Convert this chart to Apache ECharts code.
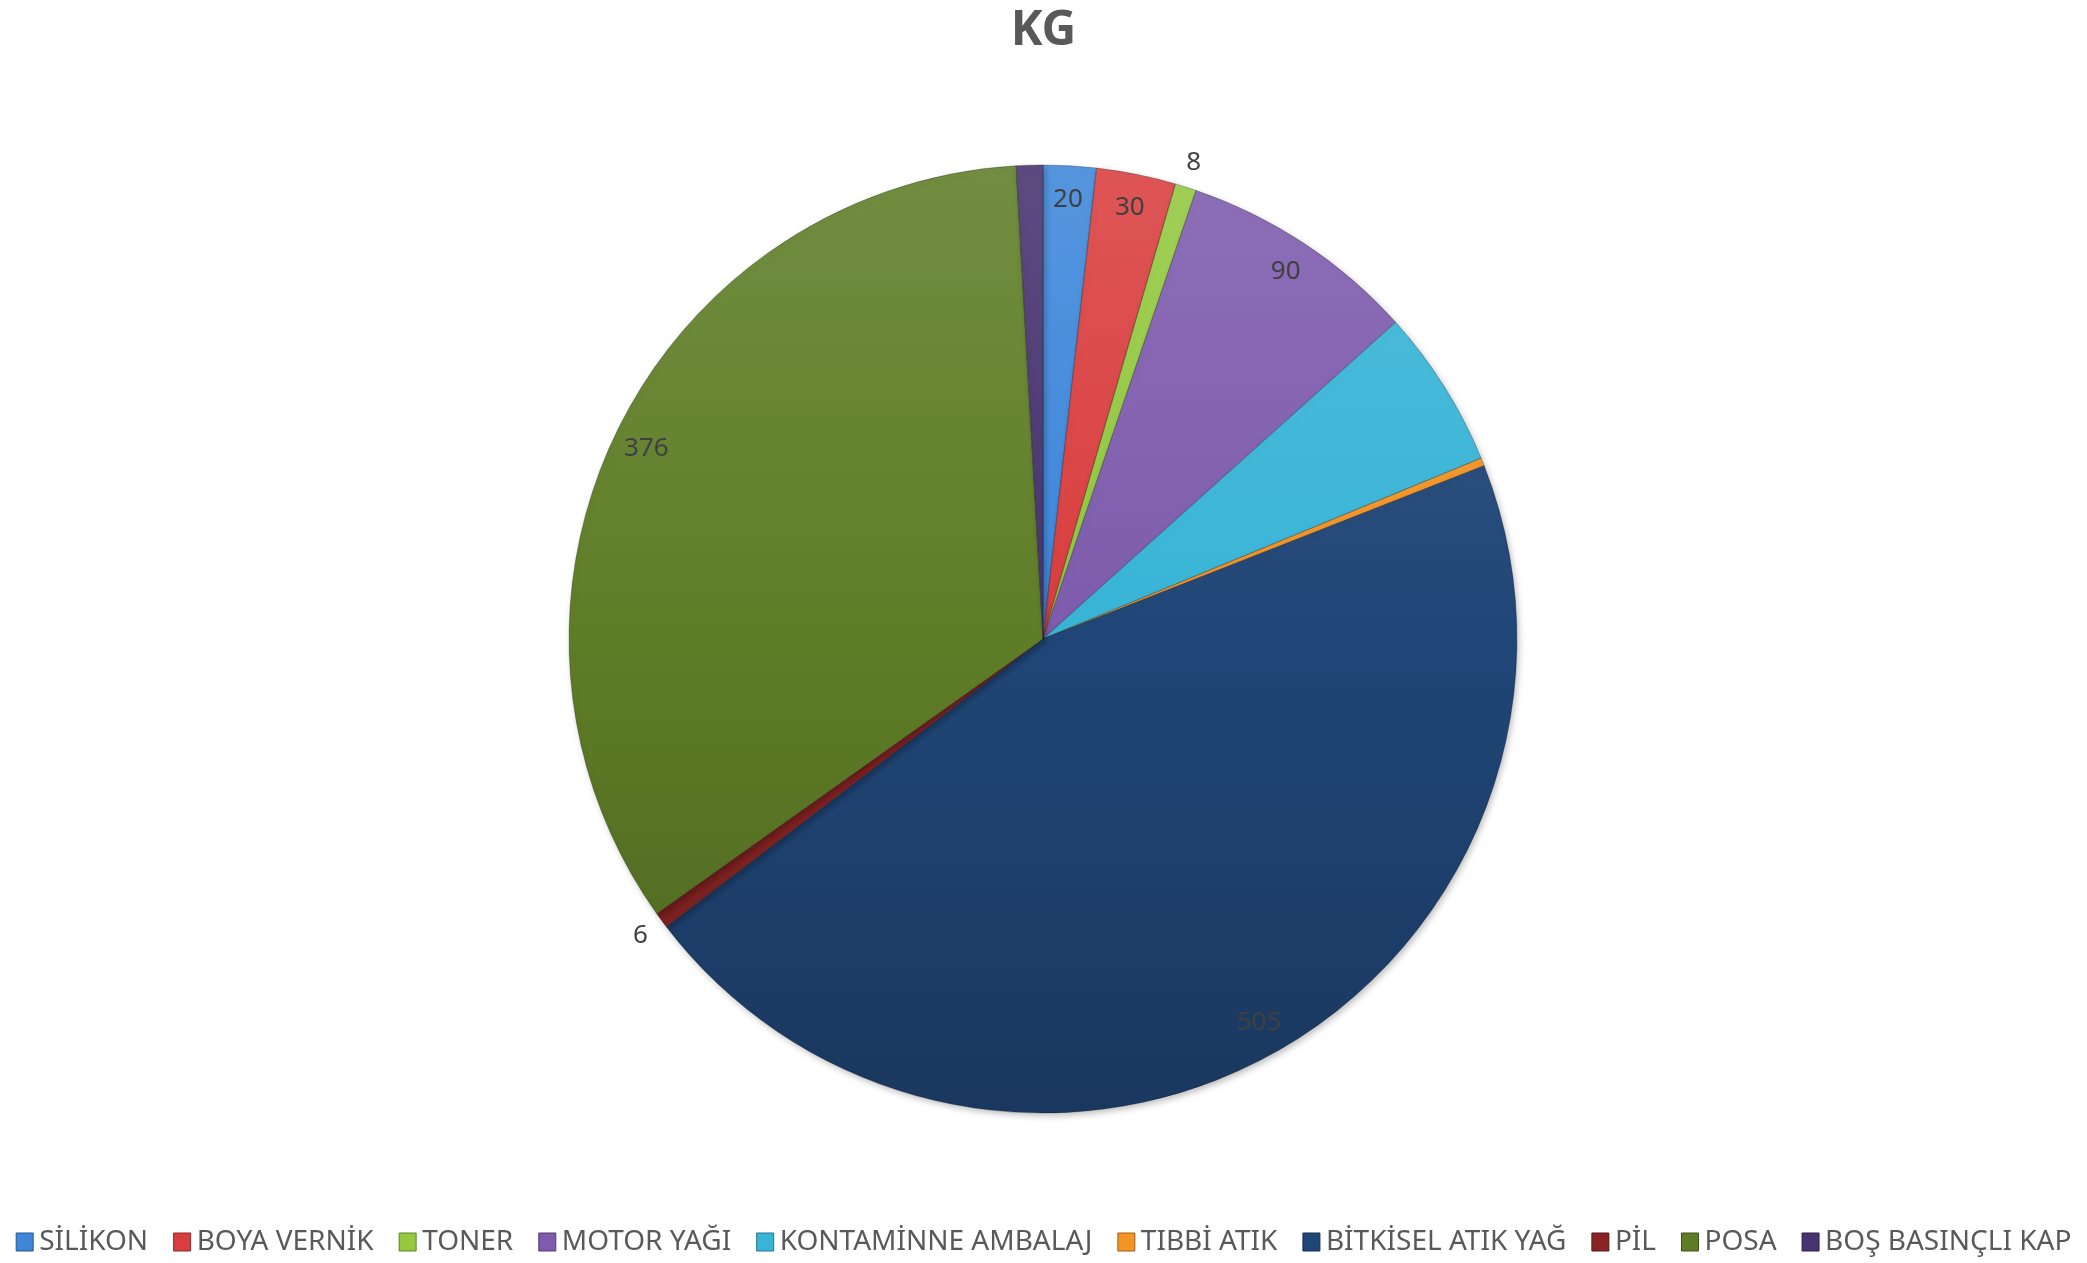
<!DOCTYPE html>
<html><head><meta charset="utf-8">
<script src="https://cdn.jsdelivr.net/npm/echarts@6/dist/echarts.min.js"></script>
<style>html,body{margin:0;padding:0;background:#fff}#c{width:2087px;height:1263px}</style>
</head><body><div id="c"></div>
<script>
const categories = ['SİLİKON','BOYA VERNİK','TONER','MOTOR YAĞI','KONTAMİNNE AMBALAJ','TIBBİ ATIK','BİTKİSEL ATIK YAĞ','PİL','POSA','BOŞ BASINÇLI KAP'];
const values = [20, 30, 8, 90, 60, 3, 505, 6, 376, 10];
const labelPlacement = ['in','in','out','in','none','none','in','out','in','none'];
const colors = ['#3d86d9','#d93e3e','#93c83f','#7e5bad','#38b4d6','#f39425','#204677','#8a2424','#5f7d27','#47336f'];

function shade(hex, f){
  const n=parseInt(hex.slice(1),16);let r=n>>16,g=(n>>8)&255,b=n&255;
  const t=f<0?0:255,p=Math.abs(f);
  r=Math.round((t-r)*p+r);g=Math.round((t-g)*p+g);b=Math.round((t-b)*p+b);
  return 'rgb('+r+','+g+','+b+')';
}
const cx=1043, cy=639, R=474;
function grad(c){
  return new echarts.graphic.LinearGradient(0, cy-R, 0, cy+R, [
    {offset:0,color:shade(c,0.12)},{offset:0.5,color:c},{offset:1,color:shade(c,-0.2)}], true);
}
const mainData = categories.map((n,i)=>({name:n,value:values[i],itemStyle:{color:grad(colors[i])}}));
const labelStyle = {color:'#404040',fontSize:26,fontFamily:'Noto Sans',formatter:'{c}'};
function ringData(mode){
  return categories.map((n,i)=>({name:n,value:values[i],
    label:{show:labelPlacement[i]===mode}}));
}
const chart = echarts.init(document.getElementById('c'));
chart.setOption({
  animation:false,
  color:colors,
  title:{text:'KG',left:'center',top:2,textStyle:{fontSize:48,fontWeight:'bold',color:'#595959',fontFamily:'Noto Sans'}},
  legend:{bottom:2,left:'center',itemWidth:17,itemHeight:18,itemGap:25,icon:'rect',
    textStyle:{fontSize:28,color:'#595959',fontFamily:'Noto Sans',padding:[0,0,0,1]},
    data:categories.map((n,i)=>({name:n,itemStyle:{color:colors[i],borderColor:shade(colors[i],-0.35),borderWidth:1}}))},
  series:[
    {type:'pie',center:[cx,cy],radius:[0,R],startAngle:90,clockwise:true,
     label:{show:false},labelLine:{show:false},
     itemStyle:{borderColor:'rgba(0,0,0,0.25)',borderWidth:1,shadowBlur:6,shadowColor:'rgba(0,0,0,0.25)',shadowOffsetX:2,shadowOffsetY:3},
     emphasis:{disabled:true},data:mainData},
    {type:'pie',center:[cx,cy],radius:[400,R],startAngle:90,clockwise:true,silent:true,avoidLabelOverlap:false,
     itemStyle:{color:'transparent',borderWidth:0},
     label:Object.assign({position:'inside'},labelStyle),labelLine:{show:false},
     emphasis:{disabled:true},data:ringData('in')},
    {type:'pie',center:[cx,cy],radius:[R,520],startAngle:90,clockwise:true,silent:true,avoidLabelOverlap:false,
     itemStyle:{color:'transparent',borderWidth:0},
     label:Object.assign({position:'inside'},labelStyle),labelLine:{show:false},
     emphasis:{disabled:true},data:ringData('out')}
  ]
});
</script></body></html>
